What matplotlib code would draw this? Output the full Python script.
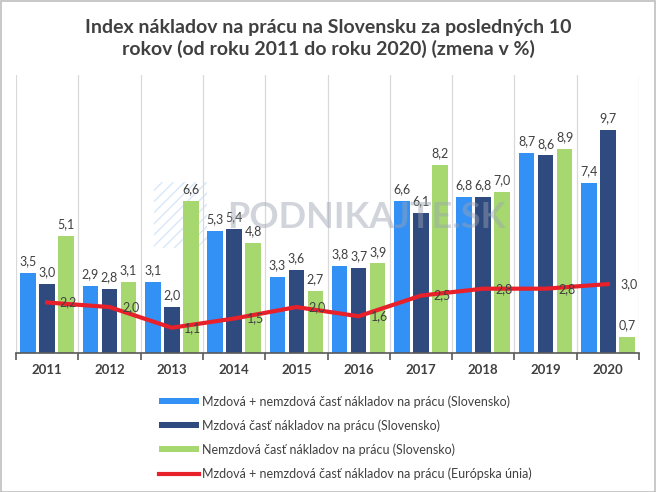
import numpy as np
import matplotlib.pyplot as plt
from matplotlib.patches import Rectangle

plt.rcParams['font.family'] = ['Lato', 'DejaVu Sans']

years = ["2011", "2012", "2013", "2014", "2015", "2016", "2017", "2018", "2019", "2020"]
total_sk = [3.5, 2.9, 3.1, 5.3, 3.3, 3.8, 6.6, 6.8, 8.7, 7.4]
wage_sk = [3.0, 2.8, 2.0, 5.4, 3.6, 3.7, 6.1, 6.8, 8.6, 9.7]
nonwage_sk = [5.1, 3.1, 6.6, 4.8, 2.7, 3.9, 8.2, 7.0, 8.9, 0.7]
total_eu = [2.2, 2.0, 1.1, 1.5, 2.0, 1.6, 2.5, 2.8, 2.8, 3.0]

labels = ["Mzdová + nemzdová časť nákladov na prácu (Slovensko)",
          "Mzdová časť nákladov na prácu (Slovensko)",
          "Nemzdová časť nákladov na prácu (Slovensko)",
          "Mzdová + nemzdová časť nákladov na prácu (Európska únia)"]
colors = ["#3390F5", "#2F4A7F", "#A6D86F", "#E8202A"]
txt = "#404040"

fig = plt.figure(figsize=(6.56, 4.92), dpi=100)
fig.patches.append(Rectangle((0.001, 0.001), 0.997, 0.997, transform=fig.transFigure,
                             fill=False, edgecolor="#BFBFBF", linewidth=1.2))
ax = fig.add_axes([0.0244, 0.2825, 0.9497, 0.565])

x = np.arange(len(years))
w = 0.25
off = 0.305
handles = []
for vals, dx, c, lab in zip([total_sk, wage_sk, nonwage_sk], [-off, 0, off], colors[:3], labels[:3]):
    b = ax.bar(x + dx, vals, width=w, color=c, label=lab, zorder=2)
    handles.append(b)
    for xi, v in zip(x + dx, vals):
        ax.text(xi, v + 0.25, f"{v:.1f}".replace(".", ","), ha="center", va="bottom",
                fontsize=9, color=txt, zorder=4)

ln, = ax.plot(x, total_eu, color=colors[3], linewidth=3, label=labels[3], zorder=3)
handles.append(ln)
for xi, v in zip(x, total_eu):
    ax.text(xi + 0.2, v, f"{v:.1f}".replace(".", ","), ha="left", va="center",
            fontsize=9, color=txt, zorder=4)

# watermark (logo stripes + text)
ax.add_patch(Rectangle((1.72, 4.55), 0.85, 2.9, fill=False, hatch="///", edgecolor="#BFD9F5",
                       linewidth=0, alpha=0.6, zorder=1))
ax.text(5.12, 5.9, "PODNIKAJTE.SK", ha="center", va="center", fontsize=26,
        fontweight="bold", color="#9AA3B0", alpha=0.45, zorder=5)

ax.set_xlim(-0.5, 9.5)
ax.set_ylim(0, 12.1)
ax.set_xticks(x)
ax.set_xticklabels(years, fontweight="bold", fontsize=9.5, color=txt)
ax.tick_params(axis="x", which="major", length=0, pad=8)
ax.set_xticks(np.arange(-0.5, 10, 1), minor=True)
ax.tick_params(axis="x", which="minor", length=5, width=1.2, color="#595959", direction="out")
ax.grid(axis="x", which="minor", color="#D9D9D9", linewidth=0.9, zorder=0)
ax.set_yticks([])
for s in ["top", "right", "left"]:
    ax.spines[s].set_visible(False)
ax.spines["bottom"].set_color("#595959")
ax.spines["bottom"].set_linewidth(1.2)

fig.text(0.5, 0.922, "Index nákladov na prácu na Slovensku za posledných 10\nrokov (od roku 2011 do roku 2020) (zmena v %)",
         ha="center", va="center", fontsize=14, fontweight="bold", color=txt, linespacing=1.25)

leg = fig.legend(handles=handles, labels=labels, loc="upper left", bbox_to_anchor=(0.234, 0.207),
                 frameon=False, fontsize=9, labelcolor=txt, handlelength=3.2, handleheight=0.35,
                 handletextpad=0.3, labelspacing=0.92, borderaxespad=0)

fig.savefig("out.png", dpi=100)
